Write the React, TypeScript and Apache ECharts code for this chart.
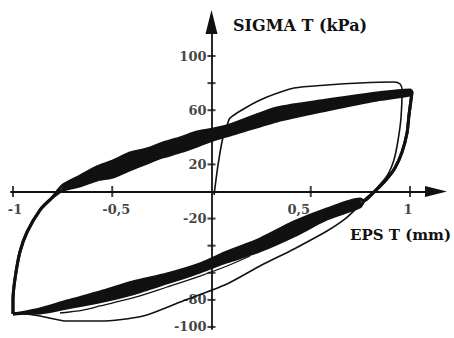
import React, { useEffect, useRef } from "react";
import * as echarts from "echarts";

// Tick labels and tick marks
const xTickLabels = [-1, -0.5, 0.5, 1];
const yTickLabels = [100, 60, 20, -20, -80, -100];
const xTickMarks = [-1, -0.5, 0.5, 1];
const yTickMarks = [100, 80, 60, 40, 20, -20, -40, -60, -80, -100];

// Main hysteresis loop (EPS T mm, SIGMA T kPa), shared reversal branches
const leftEdge = [[-1.0, -90.4], [-1.0, -80.1], [-0.99, -64.6], [-0.965, -44.6], [-0.929, -29.9], [-0.864, -13.7], [-0.804, -4.8]];
const rightEdge = [[1.01, 73.4], [1.005, 67.5], [0.995, 56.5], [0.985, 43.2], [0.96, 29.2], [0.924, 17.3], [0.879, 8.5], [0.819, -0.4], [0.768, -7.0]];

// Upper (reloading) band: top and bottom boundaries
const upperX = [-0.748, -0.662, -0.577, -0.496, -0.411, -0.325, -0.244, -0.159, -0.073, 0.008, 0.093, 0.33, 0.582, 0.834, 1.0];
const upperTop = [4.8, 11.4, 18.1, 22.5, 28.4, 31.4, 35.8, 39.5, 43.9, 46.1, 49.1, 61.6, 67.5, 72.7, 74.9];
const upperLow = [1.1, 4.1, 8.5, 10.7, 15.9, 21.0, 25.5, 29.2, 33.6, 38.0, 41.7, 52.0, 60.1, 67.5, 71.2];

// Lower (unloading) band: top and bottom boundaries
const lowerX = [0.748, 0.582, 0.416, 0.244, 0.078, -0.058, -0.224, -0.396, -0.562, -0.728, -0.864, -0.965, -1.0];
const lowerTop = [-5.5, -12.9, -22.5, -35.1, -44.6, -53.5, -60.9, -66.8, -74.2, -80.8, -86.7, -89.7, -90.4];
const lowerLow = [-11.4, -20.3, -32.8, -43.9, -52.0, -59.4, -67.5, -75.6, -81.5, -86.0, -89.7, -90.0, -90.4];

// First loading / unloading path (thin)
const firstPath = [
  [0.013, -2.6], [0.033, 19.6], [0.058, 40.2], [0.078, 48.3], [0.093, 54.2], [0.179, 62.4],
  [0.28, 69.7], [0.416, 76.4], [0.582, 78.6], [0.748, 80.1], [0.919, 80.8], [0.95, 79.3],
  [0.96, 74.9], [0.955, 55.0], [0.94, 38.0], [0.919, 23.2], [0.884, 11.4], [0.824, 1.1],
  [0.748, -10.0], [0.673, -20.3], [0.582, -29.2], [0.416, -42.4], [0.244, -55.0], [0.078, -68.3],
  [-0.144, -80.8], [-0.345, -91.9], [-0.562, -95.6], [-0.728, -95.6], [-0.864, -91.9],
  [-0.98, -89.7], [-1.0, -90.4],
];

// Thin strand just below the lower band
const innerStrand = [
  [0.194, -47.6], [0.078, -55.0], [-0.058, -62.4], [-0.224, -70.5], [-0.396, -78.6],
  [-0.562, -84.5], [-0.647, -87.5], [-0.763, -89.7],
];

const INK = "#111";
const FONT = "DejaVu Serif";
// horizontal nudges of the x tick labels, as in the original print
const xLabelNudge = [2, 4, -12, -2];

function pairs(xs: number[], ys: number[]) {
  return xs.map((x, i) => [x, ys[i]]);
}

function buildCycle(upper: number[], lower: number[]) {
  return [...leftEdge, ...pairs(upperX, upper), ...rightEdge, ...pairs(lowerX, lower)];
}

export default function App() {
  const ref = useRef<HTMLDivElement>(null);
  useEffect(() => {
    if (!ref.current) return;
    const chart = echarts.init(ref.current, null, { renderer: "svg" });
    const cycles = [buildCycle(upperTop, lowerTop), buildCycle(upperLow, lowerLow)];
    const upperBand = [...pairs(upperX, upperTop), ...pairs(upperX, upperLow).reverse()];
    const lowerBand = [...pairs(lowerX, lowerTop), ...pairs(lowerX, lowerLow).reverse()];
    const fmt = (v: number) => String(v).replace(".", ",");
    const labelBase = {
      show: true,
      color: INK,
      fontFamily: FONT,
      fontWeight: "bold" as const,
      fontSize: 13,
    };
    const bandSeries = (pts: number[][]) => ({
      type: "custom",
      coordinateSystem: "cartesian2d",
      data: pts,
      clip: false,
      silent: true,
      z: 2,
      renderItem: (params: any, api: any) => {
        if (params.dataIndex !== 0) return null;
        return {
          type: "polygon",
          shape: { points: pts.map((p) => api.coord(p)), smooth: 0.2 },
          style: { fill: INK, stroke: INK, lineWidth: 1 },
        };
      },
    });
    chart.setOption({
      animation: false,
      backgroundColor: "#fff",
      grid: { left: 11, right: 18, top: 22, bottom: 9, containLabel: false, outerBoundsMode: "none" },
      xAxis: {
        type: "value",
        min: -1.01,
        max: 1.131,
        axisLine: {
          onZero: true,
          symbol: ["none", "triangle"],
          symbolSize: [11, 22],
          lineStyle: { color: INK, width: 1.8 },
        },
        axisTick: { show: false },
        splitLine: { show: false },
        axisLabel: { show: false },
      },
      yAxis: {
        type: "value",
        min: -101.5,
        max: 125.1,
        axisLine: {
          onZero: true,
          symbol: ["none", "triangle"],
          symbolSize: [12, 24],
          lineStyle: { color: INK, width: 1.8 },
        },
        axisTick: { show: false },
        splitLine: { show: false },
        axisLabel: { show: false },
      },
      graphic: [
        {
          type: "text",
          x: 233,
          y: 25,
          style: {
            text: "SIGMA T (kPa)",
            fill: INK,
            font: `bold 16px "${FONT}"`,
            verticalAlign: "middle",
          },
        },
        {
          type: "text",
          x: 350,
          y: 235,
          style: {
            text: "EPS T (mm)",
            fill: INK,
            font: `bold 15px "${FONT}"`,
            verticalAlign: "middle",
          },
        },
      ],
      series: [
        bandSeries(upperBand),
        bandSeries(lowerBand),
        ...cycles.map((d) => ({
          type: "line",
          data: d,
          smooth: 0.25,
          showSymbol: false,
          clip: false,
          silent: true,
          lineStyle: { color: INK, width: 3 },
          z: 3,
        })),
        {
          type: "line",
          data: firstPath,
          smooth: 0.25,
          showSymbol: false,
          clip: false,
          silent: true,
          lineStyle: { color: INK, width: 1.6 },
          z: 3,
        },
        {
          type: "line",
          data: innerStrand,
          smooth: 0.3,
          showSymbol: false,
          clip: false,
          silent: true,
          lineStyle: { color: INK, width: 1.3 },
          z: 3,
        },
        {
          type: "scatter",
          data: yTickMarks.map((v) => [0, v]),
          symbol: "rect",
          symbolSize: [8, 2],
          itemStyle: { color: INK },
          clip: false,
          silent: true,
          z: 4,
          label: {
            ...labelBase,
            position: "left",
            distance: 1,
            formatter: (p: any) => (yTickLabels.includes(p.value[1]) ? fmt(p.value[1]) : ""),
          },
        },
        {
          type: "scatter",
          data: xTickMarks.map((v, i) => ({
            value: [v, 0],
            label: { offset: [xLabelNudge[i], 0] },
          })),
          symbol: "rect",
          symbolSize: [2, 11],
          itemStyle: { color: INK },
          clip: false,
          silent: true,
          z: 4,
          label: {
            ...labelBase,
            position: "bottom",
            distance: 6,
            formatter: (p: any) => (xTickLabels.includes(p.value[0]) ? fmt(p.value[0]) : ""),
          },
        },
      ],
    });
    return () => chart.dispose();
  }, []);
  return (
    <div
      ref={ref}
      style={{ position: "fixed", left: 0, top: 0, width: 454, height: 338, background: "#fff" }}
    />
  );
}
